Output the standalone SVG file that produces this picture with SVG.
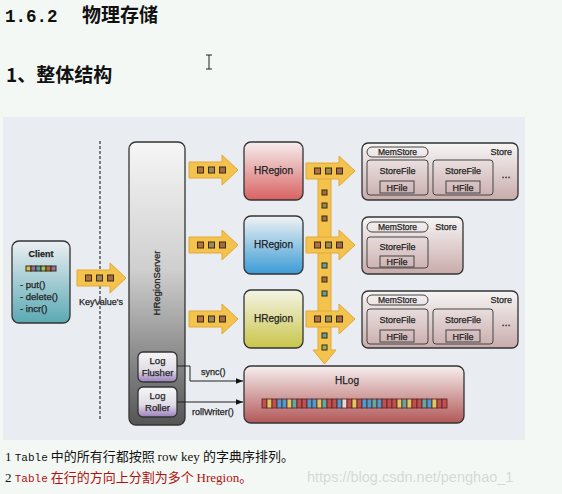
<svg xmlns="http://www.w3.org/2000/svg" width="562" height="494" viewBox="0 0 562 494">
<defs>
<style>
.lbl{font-family:"Liberation Sans",Arial,sans-serif;fill:#222;stroke:#222;stroke-width:0.25}
.box{stroke:#333;stroke-width:1.3}
.inner{fill:none;stroke:#444;stroke-width:1}
.arr{fill:#f3c34e;stroke:#e2a935;stroke-width:1}
.sq{stroke:#3a2a10;stroke-width:1}
.ln{stroke:#222;stroke-width:1;fill:none}
.cjk{font-family:"Noto Sans CJK SC",sans-serif}
</style>
<linearGradient id="gServer" x1="0" y1="0" x2="0" y2="1"><stop offset="0" stop-color="#f6f6f6"/><stop offset="0.45" stop-color="#cfcfcf"/><stop offset="1" stop-color="#555"/></linearGradient>
<linearGradient id="gRed" x1="0" y1="0" x2="0" y2="1"><stop offset="0" stop-color="#f6eeee"/><stop offset="1" stop-color="#d96262"/></linearGradient>
<linearGradient id="gBlue" x1="0" y1="0" x2="0" y2="1"><stop offset="0" stop-color="#f0f2f4"/><stop offset="1" stop-color="#3b9bd5"/></linearGradient>
<linearGradient id="gYel" x1="0" y1="0" x2="0" y2="1"><stop offset="0" stop-color="#f4f4e6"/><stop offset="1" stop-color="#c9c54a"/></linearGradient>
<linearGradient id="gStore" x1="0" y1="0" x2="0" y2="1"><stop offset="0" stop-color="#f7f5f5"/><stop offset="1" stop-color="#c9abab"/></linearGradient>
<linearGradient id="gClient" x1="0" y1="0" x2="0" y2="1"><stop offset="0" stop-color="#eceff2"/><stop offset="1" stop-color="#5aa9b4"/></linearGradient>
<linearGradient id="gLog" x1="0" y1="0" x2="0" y2="1"><stop offset="0" stop-color="#f6eeee"/><stop offset="1" stop-color="#b25858"/></linearGradient>
<linearGradient id="gLogBox" x1="0" y1="0" x2="0" y2="1"><stop offset="0" stop-color="#f6f6f6"/><stop offset="0.6" stop-color="#e0dce6"/><stop offset="1" stop-color="#9b7fbc"/></linearGradient>
<path id="harrow" d="M0,-8 H33 V-15 L49,0 L33,15 V8 H0 Z"/>
<g id="sq3">
<rect x="8.5" y="-3" width="6" height="6" fill="#b07040" class="sq"/>
<rect x="19.5" y="-3" width="6" height="6" fill="#9a8a50" class="sq"/>
<rect x="30.5" y="-3" width="6" height="6" fill="#a06a48" class="sq"/>
</g>
<marker id="ah" viewBox="0 0 10 10" refX="10" refY="5" markerWidth="7" markerHeight="7" orient="auto"><path d="M0,1 L10,5 L0,9 Z" fill="#111"/></marker>
</defs>

<rect width="562" height="494" fill="#f4f8f4"/>
<text x="5" y="22" font-family="Liberation Mono,monospace" font-size="17.5" font-weight="bold" fill="#111">1.6.2</text>
<text x="82" y="22" class="cjk" font-size="19" font-weight="bold" fill="#111">物理存储</text>
<text x="6" y="82" class="cjk" font-size="19" font-weight="bold" fill="#111">1、整体结构</text>
<g id="cursor" stroke="#222" stroke-width="1" fill="none"><path d="M206,55 H212 M209,55 V69 M206,69 H212"/></g>

<rect x="3" y="117" width="522" height="323" fill="#e9ecf0"/>
<line x1="100" y1="141" x2="100" y2="420" stroke="#333" stroke-width="1.2" stroke-dasharray="3,2"/>

<g id="client">
<rect x="12" y="241" width="58" height="82" rx="7" fill="url(#gClient)" class="box"/>
<text x="41" y="257" class="lbl" font-size="9" font-weight="bold" text-anchor="middle">Client</text>
<rect x="26" y="266" width="5" height="5" fill="#d8c050" class="sq"/>
<rect x="31" y="266" width="5" height="5" fill="#9070a8" class="sq"/>
<rect x="36" y="266" width="5" height="5" fill="#50a0b8" class="sq"/>
<rect x="41" y="266" width="5" height="5" fill="#a8c060" class="sq"/>
<rect x="46" y="266" width="5" height="5" fill="#b07040" class="sq"/>
<rect x="51" y="266" width="5" height="5" fill="#9070a8" class="sq"/>
<text x="20" y="288" class="lbl" font-size="9.5">- put()</text>
<text x="20" y="300" class="lbl" font-size="9.5">- delete()</text>
<text x="20" y="312" class="lbl" font-size="9.5">- incr()</text>
</g>

<g id="server">
<rect x="129" y="142" width="56" height="283" rx="7" fill="url(#gServer)" class="box"/>
<text transform="translate(160,283) rotate(-90)" class="lbl" font-size="9.5" text-anchor="middle">HRegionServer</text>
</g>
<g id="logflusher">
<rect x="138" y="352" width="39" height="30" rx="5" fill="url(#gLogBox)" class="box"/>
<text x="157.5" y="364" class="lbl" font-size="9.5" text-anchor="middle">Log</text>
<text x="157.5" y="376" class="lbl" font-size="9.5" text-anchor="middle">Flusher</text>
</g>
<g id="logroller">
<rect x="138" y="387" width="39" height="30" rx="5" fill="url(#gLogBox)" class="box"/>
<text x="157.5" y="399" class="lbl" font-size="9.5" text-anchor="middle">Log</text>
<text x="157.5" y="411" class="lbl" font-size="9.5" text-anchor="middle">Roller</text>
</g>

<g id="hregion1">
<rect x="244" y="142" width="59" height="58" rx="7" fill="url(#gRed)" class="box"/>
<text x="273.5" y="174" class="lbl" font-size="10" text-anchor="middle">HRegion</text>
</g>
<g id="hregion2">
<rect x="244" y="216" width="59" height="58" rx="7" fill="url(#gBlue)" class="box"/>
<text x="273.5" y="248" class="lbl" font-size="10" text-anchor="middle">HRegion</text>
</g>
<g id="hregion3">
<rect x="244" y="290" width="59" height="58" rx="7" fill="url(#gYel)" class="box"/>
<text x="273.5" y="322" class="lbl" font-size="10" text-anchor="middle">HRegion</text>
</g>

<g id="store1">
<rect x="362" y="143" width="156" height="57" rx="6" fill="url(#gStore)" class="box"/>
<rect x="367" y="147" width="61" height="10" rx="5" fill="#f4f2f2" class="inner"/>
<text x="397.5" y="155" class="lbl" font-size="8.5" text-anchor="middle">MemStore</text>
<text x="512" y="155" class="lbl" font-size="9" text-anchor="end">Store</text>
<rect x="367" y="160" width="61" height="35" rx="3" class="inner"/>
<text x="397.5" y="174" class="lbl" font-size="9" text-anchor="middle">StoreFile</text>
<rect x="380" y="181" width="34" height="12" class="inner"/>
<text x="397" y="190.5" class="lbl" font-size="9" text-anchor="middle">HFile</text>
<rect x="433" y="160" width="60" height="35" rx="3" class="inner"/>
<text x="463" y="174" class="lbl" font-size="9" text-anchor="middle">StoreFile</text>
<rect x="446" y="181" width="34" height="12" class="inner"/>
<text x="463" y="190.5" class="lbl" font-size="9" text-anchor="middle">HFile</text>
<text x="506" y="178" class="lbl" font-size="11" text-anchor="middle">...</text>
</g>
<g id="store2">
<rect x="362" y="217" width="101" height="57" rx="6" fill="url(#gStore)" class="box"/>
<rect x="367" y="222" width="61" height="10" rx="5" fill="#f4f2f2" class="inner"/>
<text x="397.5" y="230" class="lbl" font-size="8.5" text-anchor="middle">MemStore</text>
<text x="446" y="230" class="lbl" font-size="9" text-anchor="middle">Store</text>
<rect x="367" y="237" width="61" height="31" rx="3" class="inner"/>
<text x="397.5" y="250" class="lbl" font-size="9" text-anchor="middle">StoreFile</text>
<rect x="380" y="256" width="34" height="11" class="inner"/>
<text x="397" y="265" class="lbl" font-size="9" text-anchor="middle">HFile</text>
</g>
<g id="store3">
<rect x="362" y="291" width="156" height="57" rx="6" fill="url(#gStore)" class="box"/>
<rect x="367" y="295" width="61" height="10" rx="5" fill="#f4f2f2" class="inner"/>
<text x="397.5" y="303" class="lbl" font-size="8.5" text-anchor="middle">MemStore</text>
<text x="512" y="303" class="lbl" font-size="9" text-anchor="end">Store</text>
<rect x="367" y="309" width="61" height="35" rx="3" class="inner"/>
<text x="397.5" y="323" class="lbl" font-size="9" text-anchor="middle">StoreFile</text>
<rect x="380" y="330" width="34" height="12" class="inner"/>
<text x="397" y="339.5" class="lbl" font-size="9" text-anchor="middle">HFile</text>
<rect x="433" y="309" width="60" height="35" rx="3" class="inner"/>
<text x="463" y="323" class="lbl" font-size="9" text-anchor="middle">StoreFile</text>
<rect x="446" y="330" width="34" height="12" class="inner"/>
<text x="463" y="339.5" class="lbl" font-size="9" text-anchor="middle">HFile</text>
<text x="506" y="326" class="lbl" font-size="11" text-anchor="middle">...</text>
</g>

<g id="hlog">
<rect x="244" y="366" width="220" height="57" rx="7" fill="url(#gLog)" class="box"/>
<text x="347" y="384" class="lbl" font-size="10" text-anchor="middle">HLog</text>
<g stroke="#5a2020" stroke-width="0.8">
<rect x="262" y="399" width="5" height="9" fill="#c05050"/><rect x="267" y="399" width="5" height="9" fill="#e0c860"/><rect x="272" y="399" width="5" height="9" fill="#c05050"/><rect x="277" y="399" width="5" height="9" fill="#4c9cd0"/><rect x="282" y="399" width="5" height="9" fill="#4c9cd0"/><rect x="287" y="399" width="5" height="9" fill="#e0c860"/><rect x="292" y="399" width="5" height="9" fill="#60a8a0"/><rect x="297" y="399" width="5" height="9" fill="#c05050"/><rect x="302" y="399" width="5" height="9" fill="#c05050"/><rect x="307" y="399" width="5" height="9" fill="#4c9cd0"/><rect x="312" y="399" width="5" height="9" fill="#4c9cd0"/><rect x="317" y="399" width="5" height="9" fill="#e0c860"/><rect x="322" y="399" width="5" height="9" fill="#60a8a0"/><rect x="327" y="399" width="5" height="9" fill="#c05050"/><rect x="332" y="399" width="5" height="9" fill="#c05050"/><rect x="337" y="399" width="5" height="9" fill="#4c9cd0"/><rect x="342" y="399" width="5" height="9" fill="#e8d8d8"/><rect x="347" y="399" width="5" height="9" fill="#c05050"/><rect x="352" y="399" width="5" height="9" fill="#e0c860"/><rect x="357" y="399" width="5" height="9" fill="#c05050"/><rect x="362" y="399" width="5" height="9" fill="#4c9cd0"/><rect x="367" y="399" width="5" height="9" fill="#4c9cd0"/><rect x="372" y="399" width="5" height="9" fill="#60a8a0"/><rect x="377" y="399" width="5" height="9" fill="#4c9cd0"/><rect x="382" y="399" width="5" height="9" fill="#c05050"/><rect x="387" y="399" width="5" height="9" fill="#c05050"/><rect x="392" y="399" width="5" height="9" fill="#c05050"/><rect x="397" y="399" width="5" height="9" fill="#e0c860"/><rect x="402" y="399" width="5" height="9" fill="#60a8a0"/><rect x="407" y="399" width="5" height="9" fill="#e0c860"/><rect x="412" y="399" width="5" height="9" fill="#c05050"/><rect x="417" y="399" width="5" height="9" fill="#c05050"/><rect x="422" y="399" width="5" height="9" fill="#60a8a0"/><rect x="427" y="399" width="5" height="9" fill="#4c9cd0"/><rect x="432" y="399" width="5" height="9" fill="#e0c860"/><rect x="437" y="399" width="5" height="9" fill="#c05050"/><rect x="442" y="399" width="5" height="9" fill="#c05050"/>
</g>
</g>

<g id="connectors">
<use href="#harrow" x="77" y="278" class="arr"/>
<use href="#sq3" x="77" y="278"/>
<use href="#harrow" x="189" y="170" class="arr"/>
<use href="#sq3" x="189" y="170"/>
<use href="#harrow" x="189" y="245" class="arr"/>
<use href="#sq3" x="189" y="245"/>
<use href="#harrow" x="189" y="319" class="arr"/>
<use href="#sq3" x="189" y="319"/>
<path d="M318,172 H331 V350 H336 L324.5,364 L313,350 H318 Z" class="arr"/>
<use href="#harrow" x="306" y="171" class="arr"/>
<use href="#sq3" x="306" y="171"/>
<use href="#harrow" x="306" y="245" class="arr"/>
<use href="#sq3" x="306" y="245"/>
<use href="#harrow" x="306" y="319" class="arr"/>
<use href="#sq3" x="306" y="319"/>
<g class="sq" fill="#a07040">
<rect x="322" y="190" width="5" height="5"/><rect x="322" y="203" width="5" height="5" fill="#9a8a50"/><rect x="322" y="216" width="5" height="5"/>
<rect x="322" y="263" width="5" height="5" fill="#60a0a0"/><rect x="322" y="277" width="5" height="5"/><rect x="322" y="291" width="5" height="5" fill="#60a0a0"/>
<rect x="322" y="333" width="5" height="5" fill="#60a0a0"/><rect x="322" y="345" width="5" height="5" fill="#9ab060"/>
</g>
<text x="101" y="305" class="lbl" font-size="9" text-anchor="middle">KeyValue's</text>
<path d="M177,366 H190 V381 H243" class="ln" marker-end="url(#ah)"/>
<path d="M177,402 H243" class="ln" marker-end="url(#ah)"/>
<text x="201" y="375" class="lbl" font-size="9">sync()</text>
<text x="192" y="415" class="lbl" font-size="9">rollWriter()</text>
</g>

<text x="5" y="461" font-size="13" fill="#111"><tspan font-family="Liberation Serif,serif">1 </tspan><tspan font-family="Liberation Mono,monospace" font-size="11">Table</tspan><tspan font-family="Noto Sans CJK SC,sans-serif"> 中的所有行都按照 </tspan><tspan font-family="Liberation Serif,serif">row key </tspan><tspan font-family="Noto Sans CJK SC,sans-serif">的字典序排列。</tspan></text>
<text x="5" y="482" font-size="13" fill="#b01010"><tspan font-family="Liberation Serif,serif" fill="#111">2 </tspan><tspan font-family="Liberation Mono,monospace" font-size="11">Table</tspan><tspan font-family="Noto Sans CJK SC,sans-serif"> 在行的方向上分割为多个 </tspan><tspan font-family="Liberation Serif,serif">Hregion</tspan><tspan font-family="Noto Sans CJK SC,sans-serif">。</tspan></text>
<text x="307" y="482" font-family="Liberation Sans,Arial,sans-serif" font-size="14.5" fill="#d6d8d8">https://blog.csdn.net/penghao_1</text>
</svg>
